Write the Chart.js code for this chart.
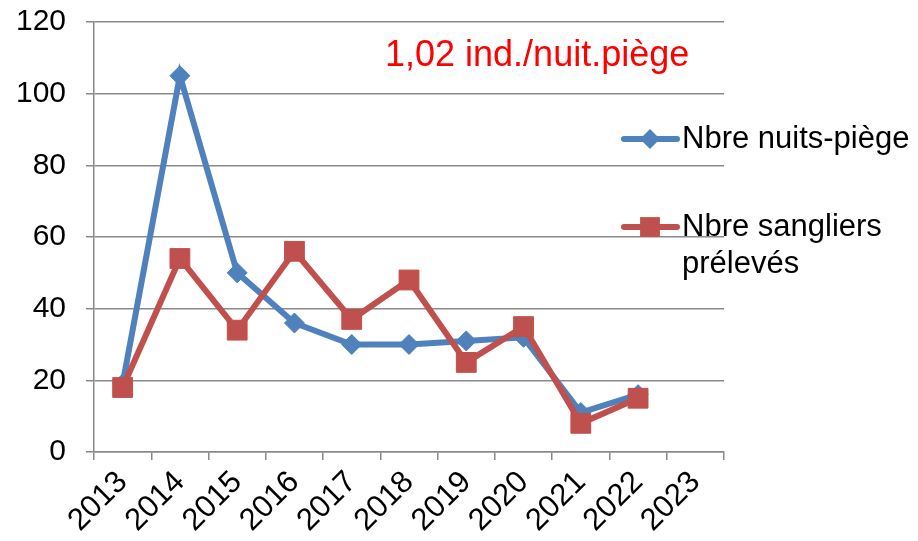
<!DOCTYPE html>
<html>
<head>
<meta charset="utf-8">
<script src="https://cdn.jsdelivr.net/npm/chart.js@4/dist/chart.umd.min.js"></script>
<style>
  html, body { margin: 0; padding: 0; background: #fff; }
  #cadre { width: 918px; height: 541px; }
</style>
</head>
<body>
<div id="cadre"><canvas id="graphiqueSangliers"></canvas></div>
<script>
const annees = ["2013", "2014", "2015", "2016", "2017", "2018", "2019", "2020", "2021", "2022", "2023"];
const nuitsPiege = [19, 105, 50, 36, 30, 30, 31, 32, 11, 16, null];
const sangliersPreleves = [18, 54, 34, 56, 37, 48, 25, 35, 8, 15, null];
const ticksY = [0, 20, 40, 60, 80, 100, 120];
const noteRatio = "1,02 ind./nuit.piège";

const bleu = "#4F81BD";
const rouge = "#C0504D";
const police = "'Liberation Sans', Arial, sans-serif";

// legende et texte rouge poses par dessus le graphique, comme dans Excel
const legendeManuelle = {
    id: "legendeManuelle",
    afterDraw(chart) {
        const ctx = chart.ctx;
        ctx.save();
        ctx.fillStyle = "#FF0000";
        ctx.font = "36px " + police;
        ctx.textBaseline = "alphabetic";
        ctx.textAlign = "left";
        ctx.fillText(noteRatio, 385, 66);

        const entrees = [
            { couleur: bleu, forme: "rectRot", rayon: 10, y: 139, lignes: ["Nbre nuits-piège"] },
            { couleur: rouge, forme: "rect", rayon: 14, y: 227, lignes: ["Nbre sangliers", "prélevés"] }
        ];
        entrees.forEach(e => {
            ctx.strokeStyle = e.couleur;
            ctx.lineWidth = 6;
            ctx.lineCap = "round";
            ctx.beginPath();
            ctx.moveTo(624, e.y);
            ctx.lineTo(677, e.y);
            ctx.stroke();
            ctx.fillStyle = e.couleur;
            Chart.helpers.drawPoint(ctx, { pointStyle: e.forme, radius: e.rayon, borderWidth: 0 }, 650, e.y);
            ctx.fillStyle = "#000";
            ctx.font = "31px " + police;
            ctx.textBaseline = "middle";
            e.lignes.forEach((t, i) => ctx.fillText(t, 682, e.y + i * 37));
        });
        ctx.restore();
    }
};

function dessinerGraphique() {
    const ctx = document.getElementById("graphiqueSangliers").getContext("2d");
    new Chart(ctx, {
        type: "line",
        data: {
            labels: annees,
            datasets: [{
                label: "Nbre nuits-piège",
                data: nuitsPiege,
                borderColor: bleu,
                backgroundColor: bleu,
                borderWidth: 6,
                pointStyle: "rectRot",
                pointRadius: 10,
                pointBorderWidth: 1,
                tension: 0,
                order: 1
            }, {
                label: "Nbre sangliers prélevés",
                data: sangliersPreleves,
                borderColor: rouge,
                backgroundColor: rouge,
                borderWidth: 6,
                pointStyle: "rect",
                pointRadius: 14,
                pointBorderWidth: 1,
                tension: 0,
                order: 0
            }]
        },
        options: {
            responsive: true,
            maintainAspectRatio: false,
            animation: false,
            layout: { padding: { left: 0, top: 22, right: 194, bottom: 0 } },
            plugins: {
                legend: { display: false },
                tooltip: { enabled: false }
            },
            scales: {
                x: {
                    offset: true,
                    grid: { offset: true, drawOnChartArea: false, drawTicks: true, tickLength: 8, color: "#8a8a8a", lineWidth: 1.5 },
                    border: { color: "#8a8a8a", width: 1.5 },
                    ticks: { color: "#000", font: { family: police, size: 31 }, minRotation: 45, maxRotation: 45, padding: 4 },
                    afterFit(scale) { scale.height = 89; }
                },
                y: {
                    min: 0,
                    max: 120,
                    afterBuildTicks(scale) { scale.ticks = ticksY.map(v => ({ value: v })); },
                    grid: { color: "#8a8a8a", lineWidth: 1.5, tickLength: 8 },
                    border: { color: "#8a8a8a", width: 1.5 },
                    ticks: { color: "#000", font: { family: police, size: 30 }, padding: 20 },
                    afterFit(scale) {
                        scale.width = 94;
                        scale.paddingTop = 0;
                        scale.paddingBottom = 0;
                    }
                }
            }
        },
        plugins: [legendeManuelle]
    });
}

addEventListener("load", dessinerGraphique, false);
</script>
</body>
</html>
